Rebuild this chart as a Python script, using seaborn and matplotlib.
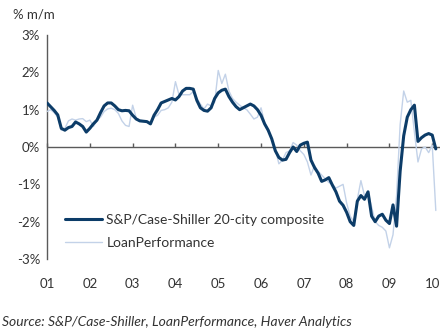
import numpy as np
import pandas as pd
import matplotlib
matplotlib.use("Agg")
import matplotlib.pyplot as plt
import seaborn as sns
from matplotlib.lines import Line2D

# Monthly % m/m changes, Jan 2001 .. Feb 2010
case_shiller = [
    1.18, 1.08, 0.98, 0.86, 0.50, 0.45, 0.52, 0.55, 0.67, 0.62, 0.55, 0.40,
    0.50, 0.62, 0.72, 0.92, 1.10, 1.18, 1.18, 1.10, 1.00, 0.97, 0.98, 0.97,
    0.85, 0.75, 0.70, 0.69, 0.68, 0.62, 0.85, 1.00, 1.18, 1.22, 1.26, 1.30,
    1.26, 1.35, 1.50, 1.57, 1.57, 1.55, 1.25, 1.05, 0.98, 0.96, 1.05, 1.30,
    1.45, 1.52, 1.55, 1.35, 1.20, 1.08, 1.00, 1.05, 1.10, 1.15, 1.10, 1.00,
    0.85, 0.62, 0.45, 0.22, -0.10, -0.28, -0.35, -0.33, -0.15, 0.00, -0.12, 0.05,
    0.10, 0.13, -0.35, -0.55, -0.70, -0.92, -0.88, -0.82, -1.02, -1.20, -1.45, -1.56,
    -1.75, -2.00, -2.10, -1.45, -1.30, -1.40, -1.20, -1.85, -2.00, -1.85, -1.80, -1.96,
    -2.05, -1.55, -2.12, -0.65, 0.30, 0.80, 1.00, 1.12, 0.15, 0.25, 0.32, 0.36,
    0.32, -0.05,
]
loan_performance = [
    0.95, 1.00, 0.92, 0.80, 0.45, 0.50, 0.70, 0.75, 0.72, 0.75, 0.76, 0.68,
    0.72, 0.55, 0.72, 0.80, 0.95, 1.02, 1.04, 1.00, 0.90, 0.70, 0.58, 0.55,
    1.12, 0.78, 0.72, 0.70, 0.68, 0.62, 0.80, 0.85, 0.98, 1.00, 1.05, 1.20,
    1.75, 1.40, 1.40, 1.40, 1.40, 1.48, 1.30, 1.15, 1.02, 1.15, 1.10, 1.20,
    2.05, 1.70, 1.95, 1.50, 1.30, 1.20, 1.12, 1.05, 1.00, 0.88, 0.75, 0.80,
    1.05, 0.65, 0.45, 0.20, -0.05, -0.45, -0.35, -0.15, -0.10, 0.12, 0.05, -0.10,
    -0.20, -0.40, -0.75, -0.50, -0.65, -0.75, -0.85, -0.95, -1.00, -1.10, -1.05, -1.00,
    -1.50, -1.85, -2.00, -1.40, -0.90, -1.30, -1.20, -1.60, -2.00, -2.10, -2.15, -2.25,
    -2.70, -2.35, -1.30, 0.60, 1.50, 1.20, 1.25, 0.40, -0.40, -0.05, 0.00, -0.15,
    0.05, -1.70,
]
series_names = ["S&P/Case-Shiller 20-city composite", "LoanPerformance"]
year_ticks = list(range(2001, 2011))
year_labels = ["01", "02", "03", "04", "05", "06", "07", "08", "09", "10"]
y_ticks = [-3, -2, -1, 0, 1, 2, 3]
y_labels = ["-3%", "-2%", "-1%", "0%", "1%", "2%", "3%"]

n = len(case_shiller)
t = 2001 + np.arange(n) / 12.0
df = pd.concat([
    pd.DataFrame({"t": t, "v": case_shiller, "series": series_names[0]}),
    pd.DataFrame({"t": t, "v": loan_performance, "series": series_names[1]}),
])

sns.set_theme(style="white")
plt.rcParams["font.family"] = ["Lato", "DejaVu Sans"]
text_col = "#333333"
axis_col = "#5a5a5a"

fig = plt.figure(figsize=(4.48, 3.30), dpi=100)
ax = fig.add_axes([0.105, 0.215, 0.877, 0.679])

palette = {series_names[0]: "#0c3c68", series_names[1]: "#c3d2e8"}
sizes = {series_names[0]: 2.2, series_names[1]: 1.0}

# zero line with year ticks
ax.axhline(0, color=axis_col, lw=1.0, zorder=1)
sec = ax.secondary_xaxis(0.5)
sec.set_xticks(year_ticks)
sec.set_xticklabels([])
for s in sec.spines.values():
    s.set_visible(False)
sec.tick_params(axis="x", direction="out", length=3, width=1, color=axis_col)

sns.lineplot(data=df, x="t", y="v", hue="series", size="series",
             hue_order=series_names[::-1], palette=palette, sizes=sizes,
             ax=ax, legend=False, zorder=3)
for ln in ax.get_lines():
    ln.set_solid_joinstyle("round")

ax.set_xlim(2001, 2010.18)
ax.set_ylim(-3, 3)
ax.set_xlabel("")
ax.set_ylabel("")
ax.set_yticks(y_ticks)
ax.set_yticklabels(y_labels)
ax.set_xticks(year_ticks)
ax.set_xticklabels(year_labels)

for s in ["top", "right", "bottom"]:
    ax.spines[s].set_visible(False)
ax.spines["left"].set_color(axis_col)
ax.spines["left"].set_linewidth(1.0)
ax.tick_params(axis="y", direction="out", length=3, width=1, color=axis_col,
               labelsize=9.5, labelcolor=text_col, pad=2)
ax.tick_params(axis="x", length=0, labelsize=9.5, labelcolor=text_col, pad=14)

handles = [Line2D([], [], color=palette[series_names[0]], lw=2.2),
           Line2D([], [], color=palette[series_names[1]], lw=1.0)]
leg = ax.legend(handles, series_names, loc="lower left",
                bbox_to_anchor=(0.02, 0.0), frameon=False, fontsize=10,
                handlelength=2.7, handletextpad=0.3, labelspacing=0.85,
                borderaxespad=0.3)
for tx in leg.get_texts():
    tx.set_color(text_col)

fig.text(0.03, 0.955, "% m/m", fontsize=9.5, color=text_col, ha="left", va="center")
fig.text(0.005, 0.025, "Source: S&P/Case-Shiller, LoanPerformance, Haver Analytics",
         fontsize=10, style="italic", color=text_col, ha="left", va="center")

fig.savefig("out.png", dpi=100)
